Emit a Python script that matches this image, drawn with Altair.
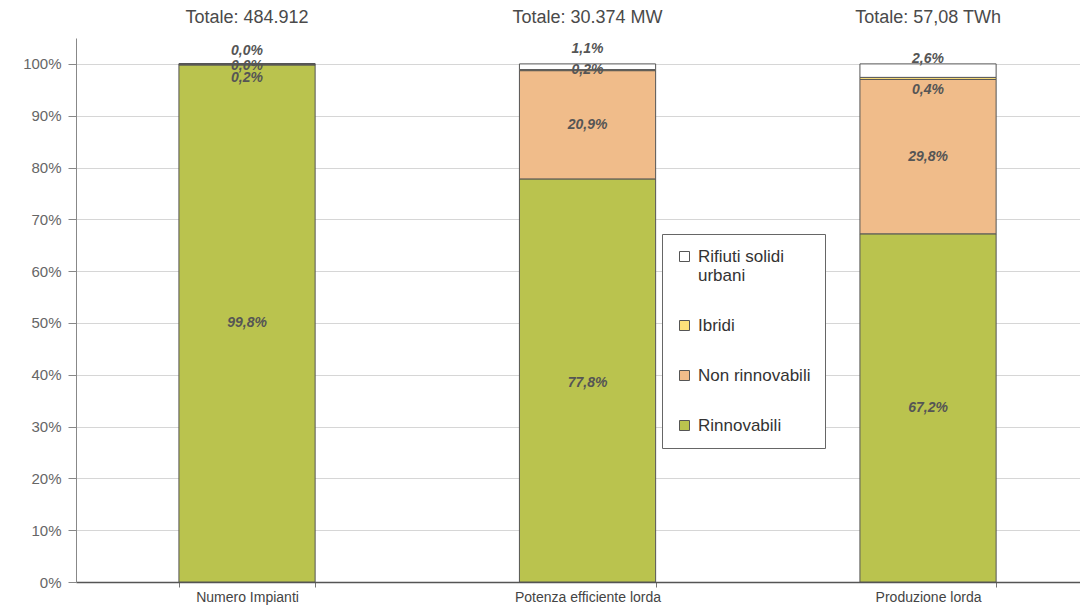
import altair as alt
import pandas as pd

CATEGORIES = ["Numero Impianti", "Potenza efficiente lorda", "Produzione lorda"]
TOTALS = ["Totale: 484.912", "Totale: 30.374 MW", "Totale: 57,08 TWh"]
SERIES = ["Rinnovabili", "Non rinnovabili", "Ibridi", "Rifiuti solidi urbani"]
RINNOVABILI = [99.8, 77.8, 67.2]
NON_RINNOVABILI = [0.2, 20.9, 29.8]
IBRIDI = [0.0, 0.2, 0.4]
RSU = [0.0, 1.1, 2.6]

LEGEND_ORDER = ["Rifiuti solidi urbani", "Ibridi", "Non rinnovabili", "Rinnovabili"]
COLORS = ["#ffffff", "#ffe27a", "#f0bc8a", "#bac34e"]

# pixel nudges of the value labels (style, positive = downward)
NUDGE = {
    ("Numero Impianti", "Non rinnovabili"): 14,
    ("Numero Impianti", "Ibridi"): 2,
    ("Numero Impianti", "Rifiuti solidi urbani"): -13,
    ("Potenza efficiente lorda", "Rinnovabili"): 3,
    ("Potenza efficiente lorda", "Rifiuti solidi urbani"): -18,
    ("Produzione lorda", "Ibridi"): 12,
    ("Produzione lorda", "Rifiuti solidi urbani"): -12,
}

W, H = 1004, 544
YMAX = 105

rows = []
for s_i, (name, vals) in enumerate(zip(SERIES, [RINNOVABILI, NON_RINNOVABILI, IBRIDI, RSU])):
    for c, v in zip(CATEGORIES, vals):
        rows.append({"cat": c, "series": name, "value": v, "order": s_i,
                     "nudge": NUDGE.get((c, name), 0)})
df = pd.DataFrame(rows)
tot = pd.DataFrame({"cat": CATEGORIES, "label": TOTALS})

xscale = alt.Scale(paddingInner=0.6, paddingOuter=0.2743, align=0.551)
yscale = alt.Scale(domain=[0, YMAX], nice=False)

base = alt.Chart(df).transform_stack(
    stack="value", as_=["y0", "y1"], groupby=["cat"],
    sort=[alt.SortField("order", order="ascending")]
).transform_calculate(
    mid=f"(datum.y0 + datum.y1) / 2 - datum.nudge * {YMAX} / {H}",
    lbl="replace(format(datum.value, '.1f'), '.', ',') + '%'"
)

xenc = alt.X("cat:N", sort=CATEGORIES, scale=xscale, title=None,
             axis=alt.Axis(labelAngle=0, tickBand="extent", tickSize=5,
                           labelFont="Liberation Sans", labelFontSize=14,
                           labelColor="#444", domainColor="#555", domainWidth=1.5,
                           tickColor="#777", labelPadding=3, grid=False))

bars = base.mark_bar(stroke="#555", strokeWidth=1).encode(
    x=xenc,
    y=alt.Y("y1:Q", scale=yscale, title=None,
            axis=alt.Axis(values=list(range(0, 101, 10)), labelExpr="datum.value + '%'",
                          labelFont="Liberation Sans", labelFontSize=15, labelColor="#666",
                          tickSize=8, tickColor="#888", domainColor="#888",
                          labelPadding=7, grid=True, gridColor="#d6d6d6")),
    y2="y0:Q",
    color=alt.Color("series:N", scale=alt.Scale(domain=LEGEND_ORDER, range=COLORS),
                    legend=alt.Legend(orient="none", legendX=586, legendY=196, title=None,
                                      strokeColor="#666", fillColor="white", padding=14,
                                      rowPadding=32, labelFont="Liberation Sans",
                                      labelFontSize=17, labelColor="#333",
                                      symbolType="square", symbolSize=100,
                                      symbolStrokeColor="#555", symbolStrokeWidth=1,
                                      labelOffset=5, labelLimit=300,
                                      labelExpr="datum.label == 'Rifiuti solidi urbani' ? ['Rifiuti solidi', 'urbani'] : datum.label")),
)

labels = base.mark_text(fontStyle="italic", fontWeight="bold", fontSize=14,
                        color="#555", font="Liberation Sans").encode(
    x=alt.X("cat:N", sort=CATEGORIES),
    y=alt.Y("mid:Q"),
    text="lbl:N",
)

titles = alt.Chart(tot).mark_text(fontSize=18, color="#4a4a4a", font="Liberation Sans").encode(
    x=alt.X("cat:N", sort=CATEGORIES),
    y=alt.value(-20),
    text="label:N",
)

chart = alt.layer(bars, labels, titles).properties(
    width=W, height=H,
    padding={"left": 68, "top": 30, "right": 0, "bottom": 26},
    autosize=alt.AutoSizeParams(type="none"),
).configure_view(stroke=None)

chart.save("out.html", embed_options={"renderer": "svg", "actions": False})
